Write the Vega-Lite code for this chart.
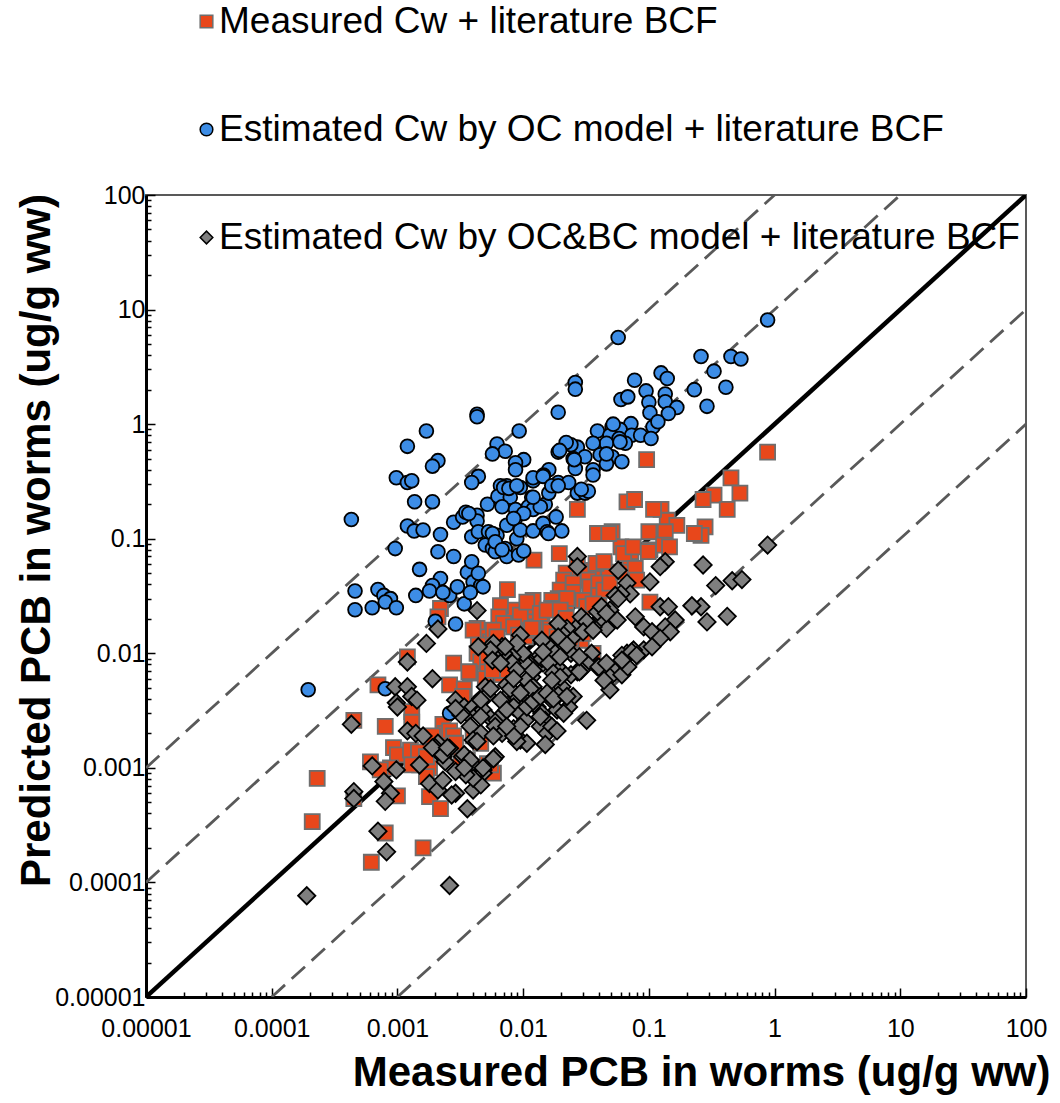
{
  "$schema": "https://vega.github.io/schema/vega-lite/v6.json",
  "width": 880,
  "height": 802,
  "autosize": {"type": "none"},
  "padding": {"left": 146, "top": 195, "right": 34, "bottom": 106},
  "background": "white",
  "config": {
    "font": "Liberation Sans",
    "view": {"stroke": "#595959", "strokeWidth": 2}
  },
  "datasets": {
    "refs": [
      {"k": "s", "x": 0.00001, "y": 0.00001}, {"k": "s", "x": 100, "y": 100},
      {"k": "u2", "x": 0.00001, "y": 0.001}, {"k": "u2", "x": 1, "y": 100},
      {"k": "u1", "x": 0.00001, "y": 0.0001}, {"k": "u1", "x": 10, "y": 100},
      {"k": "l1", "x": 0.0001, "y": 0.00001}, {"k": "l1", "x": 100, "y": 10},
      {"k": "l2", "x": 0.001, "y": 0.00001}, {"k": "l2", "x": 100, "y": 1}
    ],
    "pts": [
      {"g":"a","x":0.88,"y":0.57},{"g":"a","x":0.45,"y":0.34},{"g":"a","x":0.53,"y":0.25},{"g":"a","x":0.33,"y":0.24},{"g":"a","x":0.42,"y":0.18},{"g":"a","x":0.27,"y":0.22},{"g":"a","x":0.28,"y":0.127},{"g":"a","x":0.26,"y":0.107},{"g":"a","x":0.027,"y":0.18},{"g":"a","x":0.0122,"y":0.065},{"g":"a","x":0.0194,"y":0.074},{"g":"a","x":0.0075,"y":0.036},{"g":"a","x":0.039,"y":0.111},{"g":"a","x":0.051,"y":0.115},{"g":"a","x":0.06,"y":0.085},{"g":"a","x":0.067,"y":0.21},{"g":"a","x":0.077,"y":0.22},{"g":"a","x":0.125,"y":0.18},{"g":"a","x":0.14,"y":0.145},{"g":"a","x":0.167,"y":0.131},{"g":"a","x":0.1,"y":0.115},{"g":"a","x":0.135,"y":0.115},{"g":"a","x":0.102,"y":0.08},{"g":"a","x":0.131,"y":0.088},{"g":"a","x":0.146,"y":0.085},{"g":"a","x":0.23,"y":0.111},{"g":"a","x":0.072,"y":0.065},{"g":"a","x":0.071,"y":0.057},{"g":"a","x":0.063,"y":0.074},{"g":"a","x":0.044,"y":0.059},{"g":"a","x":0.048,"y":0.051},{"g":"a","x":0.036,"y":0.053},{"g":"a","x":0.027,"y":0.057},{"g":"a","x":0.029,"y":0.05},{"g":"a","x":0.027,"y":0.0435},{"g":"a","x":0.022,"y":0.05},{"g":"a","x":0.021,"y":0.0435},{"g":"a","x":0.0197,"y":0.0356},{"g":"a","x":0.019,"y":0.03},{"g":"a","x":0.022,"y":0.028},{"g":"a","x":0.025,"y":0.041},{"g":"a","x":0.025,"y":0.034},{"g":"a","x":0.033,"y":0.0435},{"g":"a","x":0.034,"y":0.038},{"g":"a","x":0.04,"y":0.041},{"g":"a","x":0.04,"y":0.032},{"g":"a","x":0.044,"y":0.0356},{"g":"a","x":0.049,"y":0.041},{"g":"a","x":0.063,"y":0.051},{"g":"a","x":0.078,"y":0.055},{"g":"a","x":0.08,"y":0.0435},{"g":"a","x":0.03,"y":0.029},{"g":"a","x":0.032,"y":0.0255},{"g":"a","x":0.04,"y":0.026},{"g":"a","x":0.044,"y":0.023},{"g":"a","x":0.102,"y":0.028},{"g":"a","x":0.0169,"y":0.029},{"g":"a","x":0.0169,"y":0.0246},{"g":"a","x":0.0141,"y":0.0223},{"g":"a","x":0.0141,"y":0.0182},{"g":"a","x":0.015,"y":0.0154},{"g":"a","x":0.0114,"y":0.026},{"g":"a","x":0.012,"y":0.029},{"g":"a","x":0.0107,"y":0.0223},{"g":"a","x":0.0114,"y":0.0188},{"g":"a","x":0.0125,"y":0.017},{"g":"a","x":0.0084,"y":0.0238},{"g":"a","x":0.0095,"y":0.0215},{"g":"a","x":0.0066,"y":0.026},{"g":"a","x":0.0064,"y":0.0208},{"g":"a","x":0.007,"y":0.0182},{"g":"a","x":0.0084,"y":0.017},{"g":"a","x":0.0092,"y":0.0144},{"g":"a","x":0.0104,"y":0.0139},{"g":"a","x":0.012,"y":0.0159},{"g":"a","x":0.0043,"y":0.0165},{"g":"a","x":0.0048,"y":0.0139},{"g":"a","x":0.0055,"y":0.0126},{"g":"a","x":0.004,"y":0.0159},{"g":"a","x":0.0044,"y":0.0118},{"g":"a","x":0.0022,"y":0.0246},{"g":"a","x":0.0021,"y":0.0208},{"g":"a","x":0.0043,"y":0.01},{"g":"a","x":0.0046,"y":0.0084},{"g":"a","x":0.0052,"y":0.0079},{"g":"a","x":0.0028,"y":0.0082},{"g":"a","x":0.036,"y":0.01},{"g":"a","x":0.029,"y":0.013},{"g":"a","x":0.03,"y":0.0149},{"g":"a","x":0.027,"y":0.017},{"g":"a","x":0.024,"y":0.0135},{"g":"a","x":0.0186,"y":0.0139},{"g":"a","x":0.021,"y":0.0139},{"g":"a","x":0.0026,"y":0.0053},{"g":"a","x":0.0038,"y":0.0067},{"g":"a","x":0.005,"y":0.006},{"g":"a","x":0.0068,"y":0.0065},{"g":"a","x":0.0074,"y":0.0071},{"g":"a","x":0.0023,"y":0.0024},{"g":"a","x":0.0024,"y":0.002},{"g":"a","x":0.0019,"y":0.0019},{"g":"a","x":0.004,"y":0.0019},{"g":"a","x":0.0058,"y":0.0009},{"g":"a","x":0.0052,"y":0.00109},{"g":"a","x":0.0107,"y":0.028},{"g":"a","x":0.0137,"y":0.0223},{"g":"a","x":0.0155,"y":0.0238},{"g":"a","x":0.0223,"y":0.03},{"g":"a","x":0.0197,"y":0.0238},{"g":"a","x":0.022,"y":0.0202},{"g":"a","x":0.036,"y":0.027},{"g":"a","x":0.0117,"y":0.0165},{"g":"a","x":0.0058,"y":0.0159},{"g":"a","x":0.0062,"y":0.0139},{"g":"a","x":0.0012,"y":0.0093},{"g":"a","x":0.0037,"y":0.0069},{"g":"a","x":0.0052,"y":0.0093},{"g":"a","x":0.0057,"y":0.0071},{"g":"a","x":0.0034,"y":0.0049},{"g":"a","x":0.0033,"y":0.0042},{"g":"a","x":0.0013,"y":0.0031},{"g":"a","x":0.0013,"y":0.0025},{"g":"a","x":0.0008,"y":0.0023},{"g":"a","x":0.0026,"y":0.0021},{"g":"a","x":0.0028,"y":0.0019},{"g":"a","x":0.00093,"y":0.0015},{"g":"a","x":0.001,"y":0.0013},{"g":"a","x":0.0015,"y":0.00106},{"g":"a","x":0.0018,"y":0.001},{"g":"a","x":0.0032,"y":0.00117},{"g":"a","x":0.0036,"y":0.00117},{"g":"a","x":0.0055,"y":0.00106},{"g":"a","x":0.0046,"y":0.001},{"g":"a","x":0.00088,"y":0.001},{"g":"a","x":0.00023,"y":0.00081},{"g":"a","x":0.00021,"y":0.00034},{"g":"a","x":0.00062,"y":0.00015},{"g":"a","x":0.0008,"y":0.00027},{"g":"a","x":0.0016,"y":0.0002},{"g":"a","x":0.001,"y":0.00057},{"g":"a","x":0.00061,"y":0.00113},{"g":"a","x":0.00073,"y":0.00096},{"g":"a","x":0.0017,"y":0.00084},{"g":"a","x":0.0018,"y":0.00056},{"g":"a","x":0.00045,"y":0.00054},{"g":"a","x":0.0007,"y":0.0053},{"g":"a","x":0.00045,"y":0.0026},{"g":"a","x":0.00127,"y":0.00143},{"g":"a","x":0.00147,"y":0.00138},{"g":"a","x":0.0017,"y":0.00125},{"g":"a","x":0.0013,"y":0.00106},{"g":"a","x":0.0022,"y":0.00044},{"g":"a","x":0.0046,"y":0.00164},{"g":"a","x":0.0029,"y":0.00164},{"g":"a","x":0.096,"y":0.49},{"g":"a","x":0.048,"y":0.111},{"g":"a","x":0.109,"y":0.18},{"g":"a","x":0.075,"y":0.085},{"g":"a","x":0.099,"y":0.077},{"g":"a","x":0.038,"y":0.061},{"g":"a","x":0.044,"y":0.063},
      {"g":"b","x":0.88,"y":8.1},{"g":"b","x":0.057,"y":5.7},{"g":"b","x":0.26,"y":3.9},{"g":"b","x":0.45,"y":3.9},{"g":"b","x":0.54,"y":3.7},{"g":"b","x":0.33,"y":2.9},{"g":"b","x":0.41,"y":2.1},{"g":"b","x":0.23,"y":2.0},{"g":"b","x":0.29,"y":1.43},{"g":"b","x":0.125,"y":2.8},{"g":"b","x":0.14,"y":2.5},{"g":"b","x":0.077,"y":2.42},{"g":"b","x":0.095,"y":1.95},{"g":"b","x":0.026,"y":2.31},{"g":"b","x":0.026,"y":2.02},{"g":"b","x":0.06,"y":1.64},{"g":"b","x":0.068,"y":1.73},{"g":"b","x":0.1,"y":1.55},{"g":"b","x":0.135,"y":1.83},{"g":"b","x":0.135,"y":1.57},{"g":"b","x":0.167,"y":1.4},{"g":"b","x":0.143,"y":1.24},{"g":"b","x":0.102,"y":1.26},{"g":"b","x":0.019,"y":1.27},{"g":"b","x":0.0043,"y":1.22},{"g":"b","x":0.0043,"y":1.16},{"g":"b","x":0.0093,"y":0.87},{"g":"b","x":0.108,"y":0.95},{"g":"b","x":0.118,"y":1.05},{"g":"b","x":0.072,"y":1.01},{"g":"b","x":0.051,"y":0.95},{"g":"b","x":0.039,"y":0.87},{"g":"b","x":0.059,"y":0.9},{"g":"b","x":0.049,"y":0.8},{"g":"b","x":0.073,"y":0.8},{"g":"b","x":0.086,"y":0.8},{"g":"b","x":0.104,"y":0.75},{"g":"b","x":0.065,"y":0.68},{"g":"b","x":0.058,"y":0.75},{"g":"b","x":0.046,"y":0.68},{"g":"b","x":0.036,"y":0.68},{"g":"b","x":0.027,"y":0.63},{"g":"b","x":0.024,"y":0.66},{"g":"b","x":0.022,"y":0.69},{"g":"b","x":0.019,"y":0.57},{"g":"b","x":0.041,"y":0.54},{"g":"b","x":0.051,"y":0.52},{"g":"b","x":0.061,"y":0.47},{"g":"b","x":0.046,"y":0.45},{"g":"b","x":0.031,"y":0.52},{"g":"b","x":0.025,"y":0.5},{"g":"b","x":0.036,"y":0.4},{"g":"b","x":0.036,"y":0.36},{"g":"b","x":0.026,"y":0.41},{"g":"b","x":0.016,"y":0.4},{"g":"b","x":0.0145,"y":0.36},{"g":"b","x":0.012,"y":0.32},{"g":"b","x":0.019,"y":0.31},{"g":"b","x":0.023,"y":0.31},{"g":"b","x":0.0101,"y":0.49},{"g":"b","x":0.0087,"y":0.46},{"g":"b","x":0.0087,"y":0.4},{"g":"b","x":0.0062,"y":0.67},{"g":"b","x":0.0072,"y":0.58},{"g":"b","x":0.0057,"y":0.55},{"g":"b","x":0.0021,"y":0.48},{"g":"b","x":0.0019,"y":0.43},{"g":"b","x":0.0017,"y":0.87},{"g":"b","x":0.0012,"y":0.64},{"g":"b","x":0.00098,"y":0.34},{"g":"b","x":0.0012,"y":0.31},{"g":"b","x":0.0013,"y":0.32},{"g":"b","x":0.0044,"y":0.35},{"g":"b","x":0.0039,"y":0.31},{"g":"b","x":0.0074,"y":0.29},{"g":"b","x":0.0066,"y":0.29},{"g":"b","x":0.00137,"y":0.21},{"g":"b","x":0.0019,"y":0.21},{"g":"b","x":0.0012,"y":0.129},{"g":"b","x":0.00136,"y":0.117},{"g":"b","x":0.0016,"y":0.119},{"g":"b","x":0.0022,"y":0.109},{"g":"b","x":0.0021,"y":0.077},{"g":"b","x":0.0028,"y":0.07},{"g":"b","x":0.0015,"y":0.054},{"g":"b","x":0.0022,"y":0.045},{"g":"b","x":0.0028,"y":0.139},{"g":"b","x":0.0033,"y":0.155},{"g":"b","x":0.0035,"y":0.17},{"g":"b","x":0.0043,"y":0.16},{"g":"b","x":0.0043,"y":0.143},{"g":"b","x":0.0039,"y":0.104},{"g":"b","x":0.0044,"y":0.115},{"g":"b","x":0.0052,"y":0.2},{"g":"b","x":0.0063,"y":0.235},{"g":"b","x":0.007,"y":0.28},{"g":"b","x":0.0079,"y":0.23},{"g":"b","x":0.0068,"y":0.19},{"g":"b","x":0.0087,"y":0.18},{"g":"b","x":0.0087,"y":0.15},{"g":"b","x":0.0074,"y":0.131},{"g":"b","x":0.0062,"y":0.107},{"g":"b","x":0.0053,"y":0.115},{"g":"b","x":0.005,"y":0.088},{"g":"b","x":0.0057,"y":0.082},{"g":"b","x":0.006,"y":0.077},{"g":"b","x":0.0072,"y":0.082},{"g":"b","x":0.0074,"y":0.07},{"g":"b","x":0.0092,"y":0.072},{"g":"b","x":0.0101,"y":0.078},{"g":"b","x":0.0089,"y":0.1},{"g":"b","x":0.0095,"y":0.119},{"g":"b","x":0.0095,"y":0.28},{"g":"b","x":0.012,"y":0.34},{"g":"b","x":0.0144,"y":0.35},{"g":"b","x":0.0117,"y":0.23},{"g":"b","x":0.011,"y":0.19},{"g":"b","x":0.012,"y":0.18},{"g":"b","x":0.0101,"y":0.166},{"g":"b","x":0.012,"y":0.117},{"g":"b","x":0.0144,"y":0.136},{"g":"b","x":0.0155,"y":0.115},{"g":"b","x":0.0183,"y":0.155},{"g":"b","x":0.0203,"y":0.117},{"g":"b","x":0.015,"y":0.2},{"g":"b","x":0.016,"y":0.25},{"g":"b","x":0.0169,"y":0.29},{"g":"b","x":0.019,"y":0.29},{"g":"b","x":0.0255,"y":0.49},{"g":"b","x":0.0195,"y":0.59},{"g":"b","x":0.027,"y":0.25},{"g":"b","x":0.031,"y":0.25},{"g":"b","x":0.033,"y":0.26},{"g":"b","x":0.052,"y":1.0},{"g":"b","x":0.046,"y":0.55},{"g":"b","x":0.059,"y":0.7},{"g":"b","x":0.0026,"y":0.032},{"g":"b","x":0.003,"y":0.038},{"g":"b","x":0.0019,"y":0.039},{"g":"b","x":0.0034,"y":0.027},{"g":"b","x":0.0029,"y":0.018},{"g":"b","x":0.0036,"y":0.051},{"g":"b","x":0.0039,"y":0.063},{"g":"b","x":0.004,"y":0.042},{"g":"b","x":0.0046,"y":0.039},{"g":"b","x":0.0037,"y":0.166},{"g":"b","x":0.0057,"y":0.111},{"g":"b","x":0.006,"y":0.094},{"g":"b","x":0.0068,"y":0.08},{"g":"b","x":0.0077,"y":0.275},{"g":"b","x":0.0089,"y":0.29},{"g":"b","x":0.0084,"y":0.15},{"g":"b","x":0.0137,"y":0.19},{"g":"b","x":0.012,"y":0.23},{"g":"b","x":0.0159,"y":0.111},{"g":"b","x":0.029,"y":0.27},{"g":"b","x":0.00043,"y":0.147},{"g":"b","x":0.00096,"y":0.082},{"g":"b","x":0.00046,"y":0.035},{"g":"b","x":0.0007,"y":0.036},{"g":"b","x":0.00078,"y":0.032},{"g":"b","x":0.00088,"y":0.03},{"g":"b","x":0.0008,"y":0.028},{"g":"b","x":0.00046,"y":0.024},{"g":"b","x":0.00063,"y":0.025},{"g":"b","x":0.00098,"y":0.025},{"g":"b","x":0.0014,"y":0.032},{"g":"b","x":0.0018,"y":0.035},{"g":"b","x":0.002,"y":0.019},{"g":"b","x":0.000195,"y":0.0048},{"g":"b","x":0.0008,"y":0.0049},{"g":"b","x":0.0026,"y":0.003},{"g":"b","x":0.0044,"y":0.05},{"g":"b","x":0.0048,"y":0.038},{"g":"b","x":0.0038,"y":0.034},{"g":"b","x":0.0023,"y":0.034},
      {"g":"c","x":0.88,"y":0.088},{"g":"c","x":0.27,"y":0.059},{"g":"c","x":0.34,"y":0.039},{"g":"c","x":0.46,"y":0.043},{"g":"c","x":0.55,"y":0.044},{"g":"c","x":0.29,"y":0.0188},{"g":"c","x":0.42,"y":0.021},{"g":"c","x":0.26,"y":0.0255},{"g":"c","x":0.027,"y":0.07},{"g":"c","x":0.027,"y":0.057},{"g":"c","x":0.057,"y":0.053},{"g":"c","x":0.135,"y":0.063},{"g":"c","x":0.123,"y":0.057},{"g":"c","x":0.102,"y":0.042},{"g":"c","x":0.067,"y":0.041},{"g":"c","x":0.071,"y":0.033},{"g":"c","x":0.06,"y":0.033},{"g":"c","x":0.054,"y":0.032},{"g":"c","x":0.049,"y":0.0238},{"g":"c","x":0.045,"y":0.0208},{"g":"c","x":0.056,"y":0.0195},{"g":"c","x":0.046,"y":0.0165},{"g":"c","x":0.04,"y":0.0195},{"g":"c","x":0.036,"y":0.017},{"g":"c","x":0.078,"y":0.0208},{"g":"c","x":0.091,"y":0.017},{"g":"c","x":0.123,"y":0.0255},{"g":"c","x":0.143,"y":0.0255},{"g":"c","x":0.22,"y":0.026},{"g":"c","x":0.162,"y":0.0195},{"g":"c","x":0.135,"y":0.017},{"g":"c","x":0.148,"y":0.0154},{"g":"c","x":0.106,"y":0.0154},{"g":"c","x":0.123,"y":0.0135},{"g":"c","x":0.091,"y":0.0107},{"g":"c","x":0.106,"y":0.0114},{"g":"c","x":0.0755,"y":0.0107},{"g":"c","x":0.067,"y":0.01},{"g":"c","x":0.061,"y":0.0096},{"g":"c","x":0.059,"y":0.0076},{"g":"c","x":0.054,"y":0.0069},{"g":"c","x":0.049,"y":0.0062},{"g":"c","x":0.049,"y":0.0048},{"g":"c","x":0.044,"y":0.0058},{"g":"c","x":0.039,"y":0.0076},{"g":"c","x":0.035,"y":0.01},{"g":"c","x":0.032,"y":0.0082},{"g":"c","x":0.029,"y":0.0071},{"g":"c","x":0.027,"y":0.0069},{"g":"c","x":0.024,"y":0.0065},{"g":"c","x":0.032,"y":0.0026},{"g":"c","x":0.025,"y":0.0042},{"g":"c","x":0.023,"y":0.0034},{"g":"c","x":0.0203,"y":0.0051},{"g":"c","x":0.019,"y":0.0043},{"g":"c","x":0.0169,"y":0.0039},{"g":"c","x":0.021,"y":0.0067},{"g":"c","x":0.0186,"y":0.0076},{"g":"c","x":0.024,"y":0.01},{"g":"c","x":0.025,"y":0.0139},{"g":"c","x":0.027,"y":0.017},{"g":"c","x":0.0223,"y":0.0165},{"g":"c","x":0.0203,"y":0.0149},{"g":"c","x":0.019,"y":0.0182},{"g":"c","x":0.029,"y":0.0208},{"g":"c","x":0.032,"y":0.0188},{"g":"c","x":0.039,"y":0.023},{"g":"c","x":0.042,"y":0.0255},{"g":"c","x":0.016,"y":0.0114},{"g":"c","x":0.0155,"y":0.0093},{"g":"c","x":0.018,"y":0.01},{"g":"c","x":0.0141,"y":0.013},{"g":"c","x":0.0137,"y":0.0096},{"g":"c","x":0.0129,"y":0.0076},{"g":"c","x":0.0144,"y":0.0082},{"g":"c","x":0.0114,"y":0.0079},{"g":"c","x":0.0117,"y":0.0062},{"g":"c","x":0.0107,"y":0.0058},{"g":"c","x":0.012,"y":0.0051},{"g":"c","x":0.0095,"y":0.0144},{"g":"c","x":0.0104,"y":0.0082},{"g":"c","x":0.01,"y":0.01},{"g":"c","x":0.0082,"y":0.0093},{"g":"c","x":0.0082,"y":0.0082},{"g":"c","x":0.0089,"y":0.0071},{"g":"c","x":0.007,"y":0.01},{"g":"c","x":0.0068,"y":0.0114},{"g":"c","x":0.0058,"y":0.0122},{"g":"c","x":0.0055,"y":0.0107},{"g":"c","x":0.0044,"y":0.0114},{"g":"c","x":0.0043,"y":0.0236},{"g":"c","x":0.0021,"y":0.0163},{"g":"c","x":0.0019,"y":0.006},{"g":"c","x":0.005,"y":0.0051},{"g":"c","x":0.0052,"y":0.0043},{"g":"c","x":0.0074,"y":0.0053},{"g":"c","x":0.0079,"y":0.0045},{"g":"c","x":0.0089,"y":0.0042},{"g":"c","x":0.0029,"y":0.0039},{"g":"c","x":0.0034,"y":0.0034},{"g":"c","x":0.0036,"y":0.003},{"g":"c","x":0.004,"y":0.0034},{"g":"c","x":0.0044,"y":0.003},{"g":"c","x":0.0048,"y":0.0032},{"g":"c","x":0.0055,"y":0.0027},{"g":"c","x":0.0062,"y":0.0026},{"g":"c","x":0.007,"y":0.003},{"g":"c","x":0.0084,"y":0.0034},{"g":"c","x":0.0095,"y":0.003},{"g":"c","x":0.0104,"y":0.0026},{"g":"c","x":0.0114,"y":0.0039},{"g":"c","x":0.0129,"y":0.0034},{"g":"c","x":0.0141,"y":0.003},{"g":"c","x":0.015,"y":0.0026},{"g":"c","x":0.0137,"y":0.0023},{"g":"c","x":0.0155,"y":0.002},{"g":"c","x":0.0186,"y":0.0032},{"g":"c","x":0.021,"y":0.003},{"g":"c","x":0.0038,"y":0.0023},{"g":"c","x":0.0046,"y":0.002},{"g":"c","x":0.004,"y":0.00175},{"g":"c","x":0.006,"y":0.0023},{"g":"c","x":0.0068,"y":0.002},{"g":"c","x":0.0084,"y":0.0022},{"g":"c","x":0.006,"y":0.00125},{"g":"c","x":0.0033,"y":0.00125},{"g":"c","x":0.004,"y":0.00106},{"g":"c","x":0.0048,"y":0.00096},{"g":"c","x":0.0021,"y":0.00164},{"g":"c","x":0.0023,"y":0.00125},{"g":"c","x":0.0095,"y":0.00175},{"g":"c","x":0.0107,"y":0.00164},{"g":"c","x":0.015,"y":0.0016},{"g":"c","x":0.0089,"y":0.0017},{"g":"c","x":0.0048,"y":0.0009},{"g":"c","x":0.0036,"y":0.00044},{"g":"c","x":0.004,"y":0.00064},{"g":"c","x":0.0046,"y":0.00071},{"g":"c","x":0.0029,"y":0.0006},{"g":"c","x":0.0027,"y":0.00058},{"g":"c","x":0.004,"y":0.00081},{"g":"c","x":0.0035,"y":0.00087},{"g":"c","x":0.0024,"y":0.00113},{"g":"c","x":0.002,"y":0.0015},{"g":"c","x":0.0026,"y":0.00148},{"g":"c","x":0.0018,"y":0.00073},{"g":"c","x":0.0021,"y":0.00064},{"g":"c","x":0.0023,"y":0.00078},{"g":"c","x":0.0015,"y":0.00106},{"g":"c","x":0.00098,"y":0.00096},{"g":"c","x":0.00078,"y":0.00076},{"g":"c","x":0.00088,"y":0.0006},{"g":"c","x":0.0008,"y":0.00051},{"g":"c","x":0.00082,"y":0.000185},{"g":"c","x":0.0026,"y":0.000094},{"g":"c","x":0.00019,"y":0.0000765},{"g":"c","x":0.00045,"y":0.00062},{"g":"c","x":0.00063,"y":0.00104},{"g":"c","x":0.0007,"y":0.00028},{"g":"c","x":0.0017,"y":0.0122},{"g":"c","x":0.0012,"y":0.0084},{"g":"c","x":0.00096,"y":0.0051},{"g":"c","x":0.0012,"y":0.0051},{"g":"c","x":0.0013,"y":0.0042},{"g":"c","x":0.00143,"y":0.0039},{"g":"c","x":0.00098,"y":0.0037},{"g":"c","x":0.00043,"y":0.0024},{"g":"c","x":0.0012,"y":0.0021},{"g":"c","x":0.0014,"y":0.002},{"g":"c","x":0.0016,"y":0.0019},{"g":"c","x":0.0019,"y":0.0015},{"g":"c","x":0.00045,"y":0.00054},{"g":"c","x":0.0057,"y":0.0087},{"g":"c","x":0.0066,"y":0.0082},{"g":"c","x":0.012,"y":0.0071},{"g":"c","x":0.0141,"y":0.009},{"g":"c","x":0.016,"y":0.0082},{"g":"c","x":0.019,"y":0.0139},{"g":"c","x":0.0223,"y":0.0118},{"g":"c","x":0.0197,"y":0.0093},{"g":"c","x":0.0174,"y":0.0067},{"g":"c","x":0.0197,"y":0.0062},{"g":"c","x":0.0169,"y":0.0058},{"g":"c","x":0.0114,"y":0.0049},{"g":"c","x":0.0079,"y":0.0049},{"g":"c","x":0.0084,"y":0.006},{"g":"c","x":0.0095,"y":0.0045},{"g":"c","x":0.0055,"y":0.0049},{"g":"c","x":0.0046,"y":0.0039},{"g":"c","x":0.0066,"y":0.0039},{"g":"c","x":0.0074,"y":0.0032},{"g":"c","x":0.0107,"y":0.0034},{"g":"c","x":0.012,"y":0.0038},{"g":"c","x":0.0137,"y":0.0042},{"g":"c","x":0.0155,"y":0.0045},{"g":"c","x":0.0174,"y":0.004},{"g":"c","x":0.0223,"y":0.0042},{"g":"c","x":0.0137,"y":0.0028},{"g":"c","x":0.0169,"y":0.0023},{"g":"c","x":0.0186,"y":0.0021},{"g":"c","x":0.0095,"y":0.0023},{"g":"c","x":0.0084,"y":0.0019},{"g":"c","x":0.0074,"y":0.0023},{"g":"c","x":0.0058,"y":0.0019},{"g":"c","x":0.0046,"y":0.0028},{"g":"c","x":0.0032,"y":0.0029},{"g":"c","x":0.0029,"y":0.0033},{"g":"c","x":0.0043,"y":0.0017},{"g":"c","x":0.0034,"y":0.0013},{"g":"c","x":0.0038,"y":0.00117},{"g":"c","x":0.0058,"y":0.0012},{"g":"c","x":0.0048,"y":0.001},{"g":"c","x":0.0023,"y":0.0013},{"g":"c","x":0.028,"y":0.0069},{"g":"c","x":0.028,"y":0.0093},{"g":"c","x":0.04,"y":0.0076},{"g":"c","x":0.046,"y":0.0082},{"g":"c","x":0.061,"y":0.0065},{"g":"c","x":0.068,"y":0.0076},{"g":"c","x":0.061,"y":0.0087},{"g":"c","x":0.073,"y":0.0103},{"g":"c","x":0.08,"y":0.0096},{"g":"c","x":0.046,"y":0.0223},{"g":"c","x":0.057,"y":0.03},{"g":"c","x":0.03,"y":0.0154},{"g":"c","x":0.036,"y":0.0159},{"g":"c","x":0.0144,"y":0.0103},{"g":"c","x":0.0089,"y":0.0122},{"g":"c","x":0.0072,"y":0.0114},{"g":"c","x":0.001,"y":0.0034},{"g":"c","x":0.0029,"y":0.00093},{"g":"c","x":0.0034,"y":0.001},{"g":"c","x":0.0025,"y":0.0015}
    ]
  },
  "layer": [
    {
      "data": {"name": "refs"},
      "transform": [{"filter": "datum.k != 's'"}],
      "mark": {"type": "line", "color": "#595959", "strokeWidth": 2.8, "strokeDash": [18, 9], "clip": true},
      "encoding": {
        "x": {"field": "x", "type": "quantitative", "scale": {"type": "log", "domain": [0.00001, 100], "nice": false}},
        "y": {"field": "y", "type": "quantitative", "scale": {"type": "log", "domain": [0.00001, 100], "nice": false}},
        "detail": {"field": "k"}
      }
    },
    {
      "data": {"name": "refs"},
      "transform": [{"filter": "datum.k == 's'"}],
      "mark": {"type": "line", "color": "#000000", "strokeWidth": 4.5, "clip": true},
      "encoding": {
        "x": {"field": "x", "type": "quantitative"},
        "y": {"field": "y", "type": "quantitative"}
      }
    },
    {
      "data": {"name": "pts"},
      "mark": {"type": "point", "filled": true, "opacity": 1, "strokeWidth": 1.8},
      "encoding": {
        "x": {
          "field": "x", "type": "quantitative",
          "axis": {
            "values": [0.00001,0.00002,0.00003,0.00004,0.00005,0.00006,0.00007,0.00008,0.00009,0.0001,0.0002,0.0003,0.0004,0.0005,0.0006,0.0007,0.0008,0.0009,0.001,0.002,0.003,0.004,0.005,0.006,0.007,0.008,0.009,0.01,0.02,0.03,0.04,0.05,0.06,0.07,0.08,0.09,0.1,0.2,0.3,0.4,0.5,0.6,0.7,0.8,0.9,1,2,3,4,5,6,7,8,9,10,20,30,40,50,60,70,80,90,100],
            "labelExpr": "indexof([0.00001,0.0001,0.001,0.01,0.1,1,10,100], datum.value) >= 0 ? format(datum.value, '.5~f') : ''",
            "tickSize": {"condition": {"test": "indexof([0.00001,0.0001,0.001,0.01,0.1,1,10,100], datum.value) >= 0", "value": -9}, "value": -5},
            "tickColor": "black", "tickWidth": 1.5,
            "domainColor": "black", "domainWidth": 3,
            "grid": false,
            "labelFont": "Liberation Sans", "labelFontSize": 25, "labelColor": "black",
            "labelPadding": 28, "labelFlush": false, "labelOverlap": false, "labelBound": false,
            "title": "Measured PCB in worms (ug/g ww)",
            "titleFont": "Liberation Sans", "titleFontSize": 42, "titleFontWeight": "bold", "titleColor": "black",
            "titleX": 904, "titleY": 88, "titleAlign": "right", "titleBaseline": "alphabetic", "titleAnchor": "end"
          }
        },
        "y": {
          "field": "y", "type": "quantitative",
          "axis": {
            "values": [0.00001,0.00002,0.00003,0.00004,0.00005,0.00006,0.00007,0.00008,0.00009,0.0001,0.0002,0.0003,0.0004,0.0005,0.0006,0.0007,0.0008,0.0009,0.001,0.002,0.003,0.004,0.005,0.006,0.007,0.008,0.009,0.01,0.02,0.03,0.04,0.05,0.06,0.07,0.08,0.09,0.1,0.2,0.3,0.4,0.5,0.6,0.7,0.8,0.9,1,2,3,4,5,6,7,8,9,10,20,30,40,50,60,70,80,90,100],
            "labelExpr": "indexof([0.00001,0.0001,0.001,0.01,0.1,1,10,100], datum.value) >= 0 ? format(datum.value, '.5~f') : ''",
            "tickSize": {"condition": {"test": "indexof([0.00001,0.0001,0.001,0.01,0.1,1,10,100], datum.value) >= 0", "value": -9}, "value": -5},
            "tickColor": "black", "tickWidth": 1.5,
            "domainColor": "black", "domainWidth": 3,
            "grid": false,
            "labelFont": "Liberation Sans", "labelFontSize": 25, "labelColor": "black",
            "labelPadding": 10, "labelFlush": false, "labelOverlap": false, "labelBound": false,
            "title": "Predicted PCB in worms (ug/g ww)",
            "titleFont": "Liberation Sans", "titleFontSize": 42, "titleFontWeight": "bold", "titleColor": "black",
            "titleX": -97, "titleY": 345, "titleAngle": -90, "titleAlign": "center", "titleBaseline": "alphabetic"
          }
        },
        "shape": {"field": "g", "type": "nominal", "scale": {"domain": ["a", "b", "c"], "range": ["square", "circle", "diamond"]}, "legend": {
          "orient": "none", "legendX": 42, "legendY": -192, "direction": "vertical", "title": null, "padding": 0,
          "labelFont": "Liberation Sans", "labelFontSize": 37, "labelColor": "black", "labelLimit": 2000, "labelOffset": -6,
          "rowPadding": 70, "symbolSize": 160, "symbolStrokeWidth": 1.5,
          "labelExpr": "datum.value == 'a' ? 'Measured Cw + literature BCF' : datum.value == 'b' ? 'Estimated Cw by OC model + literature BCF' : 'Estimated Cw by OC&BC model + literature BCF'"
        }},
        "fill": {"field": "g", "type": "nominal", "scale": {"domain": ["a", "b", "c"], "range": ["#E8471B", "#3D8DE6", "#7F7F7F"]}},
        "stroke": {"field": "g", "type": "nominal", "scale": {"domain": ["a", "b", "c"], "range": ["#6E6E6E", "#000000", "#000000"]}},
        "size": {"condition": [{"test": "datum.g == 'a'", "value": 225}, {"test": "datum.g == 'c'", "value": 300}], "value": 190}
      }
    }
  ]
}
